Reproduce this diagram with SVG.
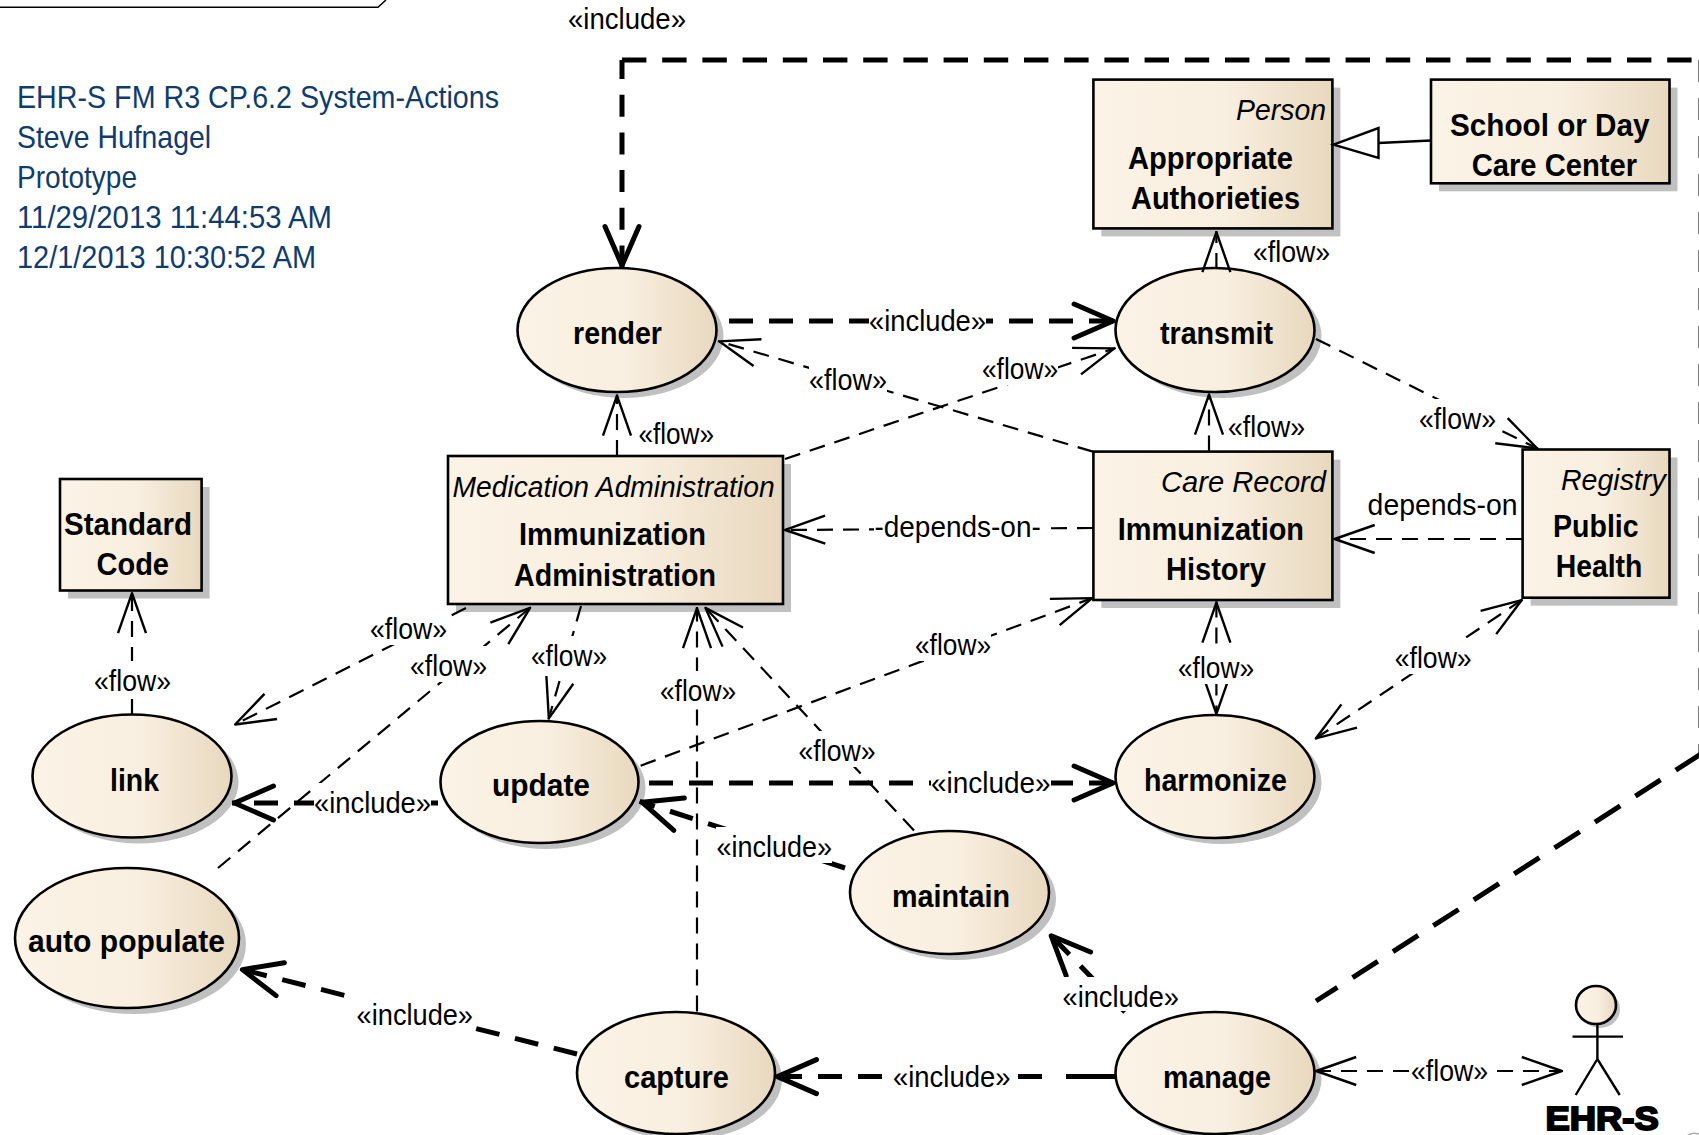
<svg xmlns="http://www.w3.org/2000/svg" width="1699" height="1135" viewBox="0 0 1699 1135">
<style>
text{font-family:"Liberation Sans",Arial,sans-serif;fill:#000}
.n{font-size:32px;font-weight:700}
.l{font-size:30px}
.i{font-size:30px;font-style:italic}
.t{font-size:32px;fill:#0f3c6e}
.a{font-size:34px;font-weight:700;stroke:#000;stroke-width:2}
.body{fill:url(#g);stroke:#000;stroke-width:2.6}
.sh{fill:#c0c0c0}
.bg{fill:#fff}
.fl{fill:none;stroke:#000;stroke-width:2.2;stroke-dasharray:16 10}
.inc{fill:none;stroke:#000;stroke-width:5;stroke-dasharray:24 16}
</style>
<defs>
<linearGradient id="g" x1="0" y1="0" x2="1" y2="0"><stop offset="0" stop-color="#fbf3e6"/><stop offset=".55" stop-color="#f9efe0"/><stop offset="1" stop-color="#e8d8be"/></linearGradient>
<marker id="mf" markerUnits="userSpaceOnUse" markerWidth="60" markerHeight="50" refX="51.2" refY="25" orient="auto"><path d="M10 11L50 25L10 39" fill="none" stroke="#000" stroke-width="2.4" stroke-linejoin="round"/></marker>
<marker id="mfs" markerUnits="userSpaceOnUse" markerWidth="60" markerHeight="50" refX="8.8" refY="25" orient="auto"><path d="M50 11L10 25L50 39" fill="none" stroke="#000" stroke-width="2.4" stroke-linejoin="round"/></marker>
<marker id="mi" markerUnits="userSpaceOnUse" markerWidth="60" markerHeight="50" refX="52.5" refY="25" orient="auto"><path d="M11 8L50 25L11 42" fill="none" stroke="#000" stroke-width="5" stroke-linecap="round" stroke-linejoin="round"/></marker>
</defs>
<path d="M0 7.3H378L386 0" fill="none" stroke="#000" stroke-width="1.5"/>
<path d="M1688 1135Q1693 1132 1699 1134" fill="none" stroke="#aaa" stroke-width="1.5"/>
<g id="title">
<text class="t" x="17" y="108" textLength="482" lengthAdjust="spacingAndGlyphs">EHR-S FM R3 CP.6.2 System-Actions</text>
<text class="t" x="17" y="148" textLength="194" lengthAdjust="spacingAndGlyphs">Steve Hufnagel</text>
<text class="t" x="17" y="188" textLength="120" lengthAdjust="spacingAndGlyphs">Prototype</text>
<text class="t" x="17" y="228" textLength="315" lengthAdjust="spacingAndGlyphs">11/29/2013 11:44:53 AM</text>
<text class="t" x="17" y="268" textLength="299" lengthAdjust="spacingAndGlyphs">12/1/2013 10:30:52 AM</text>
</g>
<g id="render"><ellipse class="sh" cx="624" cy="336" rx="99.5" ry="62"/><ellipse class="body" cx="617" cy="330" rx="99.5" ry="62"/><text class="n" x="573" y="344" textLength="89" lengthAdjust="spacingAndGlyphs">render</text></g>
<g id="transmit"><ellipse class="sh" cx="1222" cy="336" rx="99.5" ry="62"/><ellipse class="body" cx="1215" cy="330" rx="99.5" ry="62"/><text class="n" x="1160" y="344" textLength="113" lengthAdjust="spacingAndGlyphs">transmit</text></g>
<g id="link"><ellipse class="sh" cx="139" cy="782" rx="99.5" ry="61.5"/><ellipse class="body" cx="132" cy="776" rx="99.5" ry="61.5"/><text class="n" x="110" y="791" textLength="49" lengthAdjust="spacingAndGlyphs">link</text></g>
<g id="update"><ellipse class="sh" cx="546.5" cy="788" rx="99" ry="61"/><ellipse class="body" cx="539.5" cy="782" rx="99" ry="61"/><text class="n" x="492" y="796" textLength="98" lengthAdjust="spacingAndGlyphs">update</text></g>
<g id="auto-populate"><ellipse class="sh" cx="134" cy="944" rx="112" ry="70"/><ellipse class="body" cx="127" cy="938" rx="112" ry="70"/><text class="n" x="28" y="952" textLength="197" lengthAdjust="spacingAndGlyphs">auto populate</text></g>
<g id="capture"><ellipse class="sh" cx="683" cy="1079" rx="99" ry="61"/><ellipse class="body" cx="676" cy="1073" rx="99" ry="61"/><text class="n" x="624" y="1088" textLength="105" lengthAdjust="spacingAndGlyphs">capture</text></g>
<g id="harmonize"><ellipse class="sh" cx="1222" cy="782.5" rx="99.5" ry="61.5"/><ellipse class="body" cx="1215" cy="776.5" rx="99.5" ry="61.5"/><text class="n" x="1144" y="791" textLength="143" lengthAdjust="spacingAndGlyphs">harmonize</text></g>
<g id="maintain"><ellipse class="sh" cx="956.5" cy="898.5" rx="99.5" ry="61.5"/><ellipse class="body" cx="949.5" cy="892.5" rx="99.5" ry="61.5"/><text class="n" x="892" y="907" textLength="118" lengthAdjust="spacingAndGlyphs">maintain</text></g>
<g id="manage"><ellipse class="sh" cx="1222" cy="1079" rx="99.5" ry="61"/><ellipse class="body" cx="1215" cy="1073" rx="99.5" ry="61"/><text class="n" x="1163" y="1088" textLength="108" lengthAdjust="spacingAndGlyphs">manage</text></g>
<g id="medication"><rect class="sh" x="456" y="464" width="335" height="148"/><rect class="body" x="448" y="456" width="335" height="148"/><text class="i" x="452.6" y="497" textLength="322" lengthAdjust="spacingAndGlyphs">Medication Administration</text><text class="n" x="519" y="545" textLength="187" lengthAdjust="spacingAndGlyphs">Immunization</text><text class="n" x="514" y="586" textLength="202" lengthAdjust="spacingAndGlyphs">Administration</text></g>
<g id="standard-code"><rect class="sh" x="68" y="487" width="141.6" height="111.5"/><rect class="body" x="60" y="479" width="141.6" height="111.5"/><text class="n" x="64" y="535" textLength="128" lengthAdjust="spacingAndGlyphs">Standard</text><text class="n" x="96.5" y="575" textLength="72.5" lengthAdjust="spacingAndGlyphs">Code</text></g>
<g id="appropriate"><rect class="sh" x="1101.4" y="87.6" width="239" height="148.8"/><rect class="body" x="1093.4" y="79.6" width="239" height="148.8"/><text class="i" x="1236" y="120" textLength="90" lengthAdjust="spacingAndGlyphs">Person</text><text class="n" x="1128" y="169" textLength="165" lengthAdjust="spacingAndGlyphs">Appropriate</text><text class="n" x="1131" y="209" textLength="169" lengthAdjust="spacingAndGlyphs">Authorieties</text></g>
<g id="school"><rect class="sh" x="1439" y="87.6" width="238.5" height="103.7"/><rect class="body" x="1431" y="79.6" width="238.5" height="103.7"/><text class="n" x="1450" y="136" textLength="199.5" lengthAdjust="spacingAndGlyphs">School or Day</text><text class="n" x="1471.7" y="176" textLength="165.3" lengthAdjust="spacingAndGlyphs">Care Center</text></g>
<g id="history"><rect class="sh" x="1101.4" y="459.6" width="239" height="148.4"/><rect class="body" x="1093.4" y="451.6" width="239" height="148.4"/><text class="i" x="1161" y="492" textLength="165" lengthAdjust="spacingAndGlyphs">Care Record</text><text class="n" x="1117.7" y="540" textLength="186.3" lengthAdjust="spacingAndGlyphs">Immunization</text><text class="n" x="1166" y="580" textLength="100" lengthAdjust="spacingAndGlyphs">History</text></g>
<g id="public-health"><rect class="sh" x="1530.6" y="457.5" width="146.9" height="148.2"/><rect class="body" x="1522.6" y="449.5" width="146.9" height="148.2"/><text class="i" x="1561" y="490" textLength="104.7" lengthAdjust="spacingAndGlyphs">Registry</text><text class="n" x="1553" y="537" textLength="85.6" lengthAdjust="spacingAndGlyphs">Public</text><text class="n" x="1555.7" y="577" textLength="86.7" lengthAdjust="spacingAndGlyphs">Health</text></g>
<g id="actor"><ellipse class="sh" cx="1600" cy="1009" rx="20" ry="19"/><ellipse class="body" cx="1596" cy="1005" rx="20" ry="19"/><path d="M1597.4 1024V1059M1572.5 1036.6H1623M1575.7 1095L1597.4 1059L1619.7 1095" fill="none" stroke="#000" stroke-width="2.4"/><text class="a" x="1545.4" y="1130" textLength="113.3" lengthAdjust="spacingAndGlyphs">EHR-S</text></g>
<g id="connectors">
<path class="inc" d="M622 60H1695" style="stroke-dasharray:24.4 15.8"/>
<path class="inc" d="M1701 60V755" style="stroke-dasharray:22 16"/>
<path class="inc" d="M1701 754L1316 1001" style="stroke-dasharray:30 18"/>
<path class="inc" d="M622 60V268" style="stroke-dasharray:22 15.7;stroke-dashoffset:3" marker-end="url(#mi)"/>
<path class="inc" d="M729 321H1115.6" marker-end="url(#mi)"/>
<path class="inc" d="M438 803H232" marker-end="url(#mi)"/>
<path class="inc" d="M649 783H1115.6" marker-end="url(#mi)"/>
<path class="inc" d="M1116 1076.6H1066"  style="stroke-dasharray:none"/>
<path class="inc" d="M1042 1076.6H775" marker-end="url(#mi)"/>
<path class="inc" d="M577 1054L240 969" marker-end="url(#mi)"/>
<path class="inc" d="M1125 1012L1049.5 934" marker-end="url(#mi)"/>
<path class="inc" d="M845 868L639.6 801.4" marker-end="url(#mi)"/>
<path class="fl" d="M617 456V394.5" marker-end="url(#mf)"/>
<path class="fl" d="M1209 451.6V393.5" marker-end="url(#mf)"/>
<path class="fl" d="M1216.4 269V231" marker-end="url(#mf)"/>
<path class="fl" d="M785 459L1115.6 348" marker-end="url(#mf)"/>
<path class="fl" d="M1093 451.6L718 341" marker-end="url(#mf)"/>
<path class="fl" d="M1316 339L1538.4 449" marker-end="url(#mf)"/>
<path class="fl" d="M1522 539H1333.5" marker-end="url(#mf)"/>
<path class="fl" d="M1093 528L784 530" marker-end="url(#mf)"/>
<path class="fl" d="M132 715V592" marker-end="url(#mf)"/>
<path class="fl" d="M466 608L234 725" marker-end="url(#mf)"/>
<path class="fl" d="M218 868L531 607" marker-end="url(#mf)"/>
<path class="fl" d="M581 606L548.5 719.5" marker-end="url(#mf)"/>
<path class="fl" d="M697 1011.5V607" marker-end="url(#mf)"/>
<path class="fl" d="M914 830.5L704.6 607" marker-end="url(#mf)"/>
<path class="fl" d="M640.6 765.7L1093.4 597.7" marker-end="url(#mf)"/>
<path class="fl" d="M1216.4 601.4V715" marker-start="url(#mfs)" marker-end="url(#mf)"/>
<path class="fl" d="M1522.6 599.5L1315 739" marker-start="url(#mfs)" marker-end="url(#mf)"/>
<path class="fl" d="M1315 1071H1563" marker-start="url(#mfs)" marker-end="url(#mf)"/>
<path d="M1431 140.5L1378.5 143" fill="none" stroke="#000" stroke-width="2.6"/>
<path d="M1333.5 144.7L1378.5 128V158Z" fill="#fff" stroke="#000" stroke-width="2.4"/>
<g id="label-gaps" class="bg">
<rect x="568" y="0" width="118" height="35"/>
<rect x="869" y="301" width="117" height="36"/>
<rect x="638" y="414" width="76" height="36"/>
<rect x="982" y="349" width="76" height="36"/>
<rect x="809" y="360" width="78" height="36"/>
<rect x="1253" y="238" width="77" height="30"/>
<rect x="1228" y="407" width="77" height="36"/>
<rect x="1419" y="399" width="77" height="36"/>
<rect x="874" y="508" width="167" height="36"/>
<rect x="1368" y="486" width="150" height="36"/>
<rect x="370" y="609" width="77" height="36"/>
<rect x="410" y="646" width="77" height="36"/>
<rect x="531" y="636" width="76" height="36"/>
<rect x="660" y="671" width="76" height="36"/>
<rect x="94" y="661" width="77" height="36"/>
<rect x="314" y="783" width="117" height="36"/>
<rect x="716" y="827" width="116" height="36"/>
<rect x="798" y="731" width="78" height="36"/>
<rect x="357" y="995" width="116" height="36"/>
<rect x="915" y="625" width="76" height="36"/>
<rect x="1178" y="648" width="76" height="36"/>
<rect x="1395" y="638" width="77" height="36"/>
<rect x="931" y="763" width="120" height="36"/>
<rect x="1062" y="977" width="117" height="34"/>
<rect x="893" y="1057" width="117" height="36"/>
<rect x="1411" y="1051" width="77" height="36"/>
</g>
</g>
<g id="labels">
<text class="l" x="568" y="29" textLength="118" lengthAdjust="spacingAndGlyphs">«include»</text>
<text class="l" x="869" y="331" textLength="117" lengthAdjust="spacingAndGlyphs">«include»</text>
<text class="l" x="638.5" y="444" textLength="75.5" lengthAdjust="spacingAndGlyphs">«flow»</text>
<text class="l" x="982" y="379" textLength="76" lengthAdjust="spacingAndGlyphs">«flow»</text>
<text class="l" x="809" y="390" textLength="78" lengthAdjust="spacingAndGlyphs">«flow»</text>
<text class="l" x="1253" y="262" textLength="77" lengthAdjust="spacingAndGlyphs">«flow»</text>
<text class="l" x="1228" y="437" textLength="77" lengthAdjust="spacingAndGlyphs">«flow»</text>
<text class="l" x="1419" y="429" textLength="77" lengthAdjust="spacingAndGlyphs">«flow»</text>
<text class="l" x="874.4" y="537" textLength="166.4" lengthAdjust="spacingAndGlyphs">-depends-on-</text>
<text class="l" x="1367.6" y="515" textLength="150" lengthAdjust="spacingAndGlyphs">depends-on</text>
<text class="l" x="370" y="639" textLength="77" lengthAdjust="spacingAndGlyphs">«flow»</text>
<text class="l" x="410" y="676" textLength="77" lengthAdjust="spacingAndGlyphs">«flow»</text>
<text class="l" x="531" y="666" textLength="76" lengthAdjust="spacingAndGlyphs">«flow»</text>
<text class="l" x="660" y="701" textLength="76" lengthAdjust="spacingAndGlyphs">«flow»</text>
<text class="l" x="94" y="691" textLength="77" lengthAdjust="spacingAndGlyphs">«flow»</text>
<text class="l" x="314" y="813" textLength="117" lengthAdjust="spacingAndGlyphs">«include»</text>
<text class="l" x="716.5" y="857" textLength="115.5" lengthAdjust="spacingAndGlyphs">«include»</text>
<text class="l" x="798.5" y="761" textLength="77" lengthAdjust="spacingAndGlyphs">«flow»</text>
<text class="l" x="356.6" y="1025" textLength="116.4" lengthAdjust="spacingAndGlyphs">«include»</text>
<text class="l" x="915" y="655" textLength="76" lengthAdjust="spacingAndGlyphs">«flow»</text>
<text class="l" x="1178" y="678" textLength="76" lengthAdjust="spacingAndGlyphs">«flow»</text>
<text class="l" x="1394.7" y="668" textLength="77" lengthAdjust="spacingAndGlyphs">«flow»</text>
<text class="l" x="931" y="793" textLength="119.5" lengthAdjust="spacingAndGlyphs">«include»</text>
<text class="l" x="1062.5" y="1007" textLength="116.5" lengthAdjust="spacingAndGlyphs">«include»</text>
<text class="l" x="893" y="1087" textLength="117.4" lengthAdjust="spacingAndGlyphs">«include»</text>
<text class="l" x="1411" y="1081" textLength="77" lengthAdjust="spacingAndGlyphs">«flow»</text>
</g>
</svg>
